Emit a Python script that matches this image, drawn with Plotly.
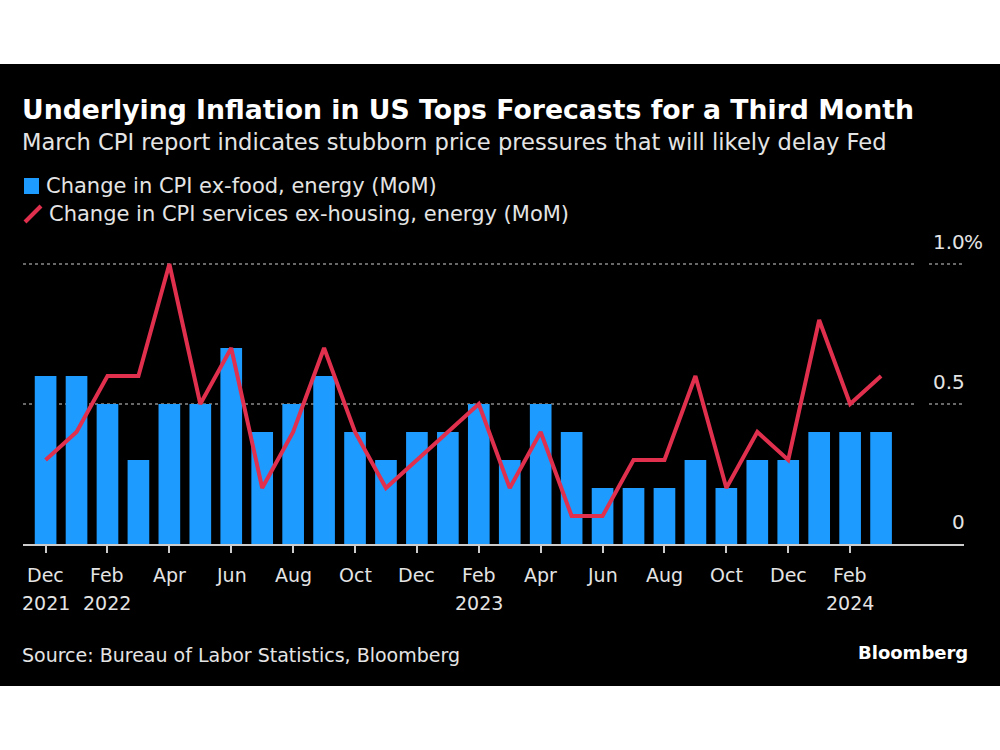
import plotly.graph_objects as go

# ---------------- data ----------------
months = [
    "Dec 2021", "Jan 2022", "Feb 2022", "Mar 2022", "Apr 2022", "May 2022",
    "Jun 2022", "Jul 2022", "Aug 2022", "Sep 2022", "Oct 2022", "Nov 2022",
    "Dec 2022", "Jan 2023", "Feb 2023", "Mar 2023", "Apr 2023", "May 2023",
    "Jun 2023", "Jul 2023", "Aug 2023", "Sep 2023", "Oct 2023", "Nov 2023",
    "Dec 2023", "Jan 2024", "Feb 2024", "Mar 2024",
]
cpi_ex_food_energy = [
    0.6, 0.6, 0.5, 0.3, 0.5, 0.5,
    0.7, 0.4, 0.5, 0.6, 0.4, 0.3,
    0.4, 0.4, 0.5, 0.3, 0.5, 0.4,
    0.2, 0.2, 0.2, 0.3, 0.2, 0.3,
    0.3, 0.4, 0.4, 0.4,
]
cpi_services_ex_housing_energy = [
    0.3, 0.4, 0.6, 0.6, 1.0, 0.5,
    0.7, 0.2, 0.4, 0.7, 0.4, 0.2,
    0.3, 0.4, 0.5, 0.2, 0.4, 0.1,
    0.1, 0.3, 0.3, 0.6, 0.2, 0.4,
    0.3, 0.8, 0.5, 0.6,
]
tick_months = ["Dec 2021", "Feb 2022", "Apr 2022", "Jun 2022", "Aug 2022", "Oct 2022",
               "Dec 2022", "Feb 2023", "Apr 2023", "Jun 2023", "Aug 2023", "Oct 2023",
               "Dec 2023", "Feb 2024"]
tick_month_labels = ["Dec", "Feb", "Apr", "Jun", "Aug", "Oct",
                     "Dec", "Feb", "Apr", "Jun", "Aug", "Oct",
                     "Dec", "Feb"]
tick_year_labels = ["2021", "2022", "", "", "", "",
                    "", "2023", "", "", "", "",
                    "", "2024"]
y_ticks = [0, 0.5, 1.0]
y_tick_labels = ["0", "0.5", "1.0"]
y_suffix = "%"

title = "Underlying Inflation in US Tops Forecasts for a Third Month"
subtitle = "March CPI report indicates stubborn price pressures that will likely delay Fed"
legend_bar = "Change in CPI ex-food, energy (MoM)"
legend_line = "Change in CPI services ex-housing, energy (MoM)"
source = "Source: Bureau of Labor Statistics, Bloomberg"

# ---------------- style ----------------
W, H = 1000, 750
ML, MR, MT, MB = 23, 36, 250, 206
PW, PH = W - ML - MR, H - MT - MB
BLUE = "#1e9bff"
RED = "#e0304e"
TXT = "#e4e4e4"
FONT = "DejaVu Sans"


def px(x):
    return (x - ML) / PW


def py(y):
    return (H - MB - y) / PH


fig = go.Figure()
fig.add_trace(go.Bar(x=months, y=cpi_ex_food_energy, marker=dict(color=BLUE, line=dict(width=0)),
                     name=legend_bar, showlegend=False))
fig.add_trace(go.Scatter(x=months, y=cpi_services_ex_housing_energy, mode="lines",
                         line=dict(color=RED, width=4), name=legend_line, showlegend=False))

shapes = [
    dict(type="rect", xref="paper", yref="paper", x0=px(0), x1=px(W), y0=py(64), y1=py(686),
         fillcolor="black", line=dict(width=0), layer="below"),
    # legend marks
    dict(type="rect", xref="paper", yref="paper", x0=px(24), x1=px(39), y0=py(194), y1=py(178),
         fillcolor=BLUE, line=dict(width=0)),
    dict(type="line", xref="paper", yref="paper", x0=px(25), x1=px(41), y0=py(222), y1=py(206),
         line=dict(color=RED, width=4)),
]
for v in y_ticks[1:]:
    shapes.append(dict(type="line", xref="paper", yref="y", x0=0, x1=px(915), y0=v, y1=v,
                       line=dict(color="#8a8a8a", width=1.5, dash="dot"), layer="below"))
    shapes.append(dict(type="line", xref="paper", yref="y", x0=px(929), x1=1, y0=v, y1=v,
                       line=dict(color="#8a8a8a", width=1.5, dash="dot"), layer="below"))

annotations = [
    dict(text="<b>" + title + "</b>", x=px(20), y=py(110), xref="paper", yref="paper",
         xanchor="left", yanchor="middle", showarrow=False, font=dict(family=FONT, size=26.7, color="white")),
    dict(text=subtitle, x=px(20), y=py(142), xref="paper", yref="paper",
         xanchor="left", yanchor="middle", showarrow=False, font=dict(family=FONT, size=22.6, color=TXT)),
    dict(text=legend_bar, x=px(44), y=py(186), xref="paper", yref="paper",
         xanchor="left", yanchor="middle", showarrow=False, font=dict(family=FONT, size=21, color=TXT)),
    dict(text=legend_line, x=px(47), y=py(214), xref="paper", yref="paper",
         xanchor="left", yanchor="middle", showarrow=False, font=dict(family=FONT, size=21, color=TXT)),
    dict(text=source, x=px(20), y=py(655), xref="paper", yref="paper",
         xanchor="left", yanchor="middle", showarrow=False, font=dict(family=FONT, size=19, color=TXT)),
    dict(text="<b>Bloomberg</b>", x=px(970), y=py(652), xref="paper", yref="paper",
         xanchor="right", yanchor="middle", showarrow=False, font=dict(family=FONT, size=18, color="white")),
]
for v, lab in zip(y_ticks, y_tick_labels):
    annotations.append(dict(text=lab, x=px(967), y=v, xref="paper", yref="y", xanchor="right",
                            yanchor="bottom", yshift=8, showarrow=False,
                            font=dict(family=FONT, size=20, color=TXT)))
annotations.append(dict(text=y_suffix, x=px(962), y=y_ticks[-1], xref="paper", yref="y", xanchor="left",
                        yanchor="bottom", yshift=8, showarrow=False,
                        font=dict(family=FONT, size=20, color=TXT)))
for m, ml, yl in zip(tick_months, tick_month_labels, tick_year_labels):
    annotations.append(dict(text=ml, x=m, y=py(575), xref="x", yref="paper", xanchor="center",
                            yanchor="middle", showarrow=False, font=dict(family=FONT, size=19, color=TXT)))
    if yl:
        annotations.append(dict(text=yl, x=m, y=py(603), xref="x", yref="paper", xanchor="center",
                                yanchor="middle", showarrow=False, font=dict(family=FONT, size=19, color=TXT)))

fig.update_layout(
    width=W, height=H,
    margin=dict(l=ML, r=MR, t=MT, b=MB, pad=0),
    paper_bgcolor="white", plot_bgcolor="rgba(0,0,0,0)",
    bargap=0.3,
    shapes=shapes, annotations=annotations,
    showlegend=False,
    xaxis=dict(type="category", categoryorder="array", categoryarray=months,
               range=[-0.73, 29.68], tickvals=tick_months, showticklabels=False,
               showgrid=False, zeroline=False, showline=True, linecolor="#cccccc", linewidth=2,
               ticks="outside", ticklen=7, tickwidth=1.5, tickcolor="#cccccc", fixedrange=True),
    yaxis=dict(range=[0, 1.05], showgrid=False, zeroline=False, showticklabels=False,
               showline=False, fixedrange=True),
)

fig.write_html("out.html", config={"displayModeBar": False},
               post_script="document.body.style.margin='0';document.body.style.padding='0';")
